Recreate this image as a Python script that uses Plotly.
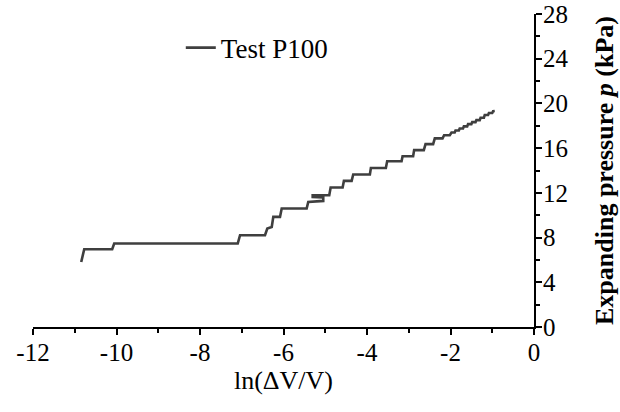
import plotly.graph_objects as go

# Data
ln_dv_v = [-10.845, -10.773, -10.103, -10.055, -7.096, -7.041, -6.443, -6.388, -6.282,
           -6.244, -6.084, -6.043, -5.445, -5.407, -5.048, -5.048, -5.301, -5.301,
           -4.904, -4.871, -4.584, -4.553, -4.368, -4.330, -3.931, -3.907, -3.548,
           -3.517, -3.172, -3.148, -2.895, -2.871, -2.639, -2.598, -2.416, -2.376,
           -2.191, -2.153, -2.017, -1.976, -1.90, -1.88, -1.80, -1.78, -1.70, -1.68,
           -1.60, -1.58, -1.50, -1.48, -1.40, -1.38, -1.30, -1.28, -1.20, -1.18,
           -1.10, -1.08, -1.00, -0.98, -0.94]
pressure = [5.82, 6.96, 6.96, 7.47, 7.47, 8.21, 8.21, 8.81, 8.95,
            9.85, 9.85, 10.60, 10.60, 11.19, 11.28, 11.58, 11.62, 11.79,
            11.79, 12.48, 12.48, 13.07, 13.07, 13.64, 13.64, 14.23, 14.23,
            14.83, 14.83, 15.28, 15.28, 15.82, 15.82, 16.36, 16.36, 16.87,
            16.87, 17.16, 17.16, 17.40, 17.40, 17.58, 17.58, 17.76, 17.76, 17.95,
            17.95, 18.15, 18.15, 18.33, 18.33, 18.51, 18.51, 18.72, 18.72, 18.96,
            18.96, 19.14, 19.14, 19.30, 19.32]

x_ticks = [-12, -10, -8, -6, -4, -2, 0]
y_ticks = [0, 4, 8, 12, 16, 20, 24, 28]
series_name = "Test P100"

FONT = "Liberation Serif, Times New Roman, serif"

fig = go.Figure()
fig.add_trace(go.Scatter(
    x=ln_dv_v, y=pressure, mode="lines", name=series_name,
    line=dict(color="#3f3f3f", width=2.6),
))

fig.update_layout(
    width=620, height=412,
    margin=dict(l=33, r=86, t=14, b=85, autoexpand=False),
    paper_bgcolor="white", plot_bgcolor="white",
    font=dict(family=FONT, color="black", size=25),
    showlegend=True,
    legend=dict(x=0.295, y=0.891, xanchor="left", yanchor="middle",
                bgcolor="rgba(0,0,0,0)", font=dict(family=FONT, size=27),
                itemwidth=30),
)

fig.update_xaxes(
    range=[-12, 0], tickvals=x_ticks, ticktext=[str(v) for v in x_ticks],
    showgrid=False, zeroline=False, automargin=False,
    showline=True, linecolor="black", linewidth=2,
    ticks="outside", ticklen=6, tickwidth=2, tickcolor="black",
    minor=dict(dtick=1, ticks="outside", ticklen=4, tickwidth=1.5, tickcolor="black", showgrid=False),
    tickfont=dict(family=FONT, size=25, color="black"),
    ticklabelstandoff=-4,
    title=dict(text="ln(ΔV/V)", font=dict(family=FONT, size=26), standoff=0),
)
fig.update_yaxes(
    range=[0, 28], side="right", tickvals=y_ticks, ticktext=[str(v) for v in y_ticks],
    showgrid=False, zeroline=False, automargin=False,
    showline=True, linecolor="black", linewidth=2,
    ticks="outside", ticklen=6, tickwidth=2, tickcolor="black",
    minor=dict(dtick=2, ticks="outside", ticklen=4, tickwidth=1.5, tickcolor="black", showgrid=False),
    tickfont=dict(family=FONT, size=25, color="black"),
    ticklabelstandoff=-4,
    title=dict(text="<b>Expanding pressure <i>p</i> (kPa)</b>", font=dict(family=FONT, size=26), standoff=27),
)

fig.write_html("out.html", config={"displayModeBar": False},
               post_script="document.body.style.margin='0';")
